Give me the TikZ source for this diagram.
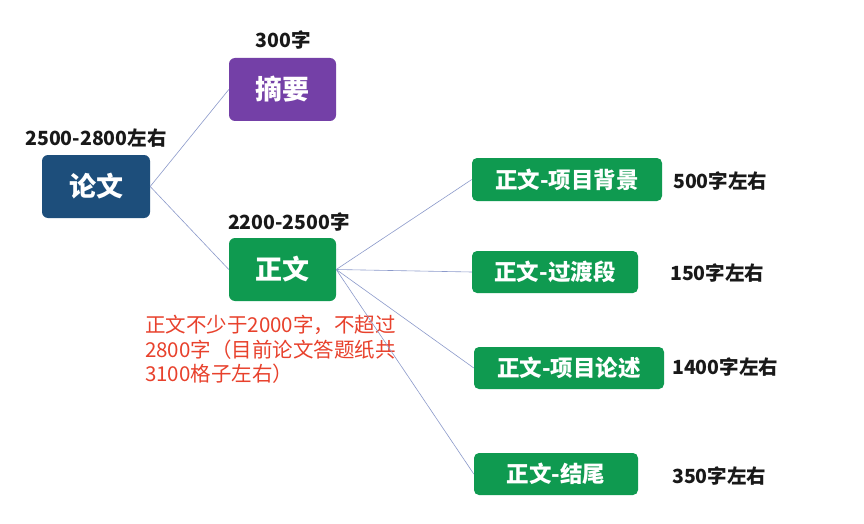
\documentclass[tikz,border=0pt]{standalone}
\usepackage{fontspec}
\setmainfont{Noto Sans CJK SC}
\begin{document}
\begin{tikzpicture}[x=1pt,y=-1pt,
  box/.style={rounded corners=6pt, text=white, font=\bfseries\fontsize{27}{31}\selectfont, inner sep=0pt, anchor=center},
  sub/.style={rounded corners=5pt, fill=ngreen, text=white, font=\bfseries\fontsize{22.5}{26}\selectfont, inner sep=0pt, anchor=center},
  lbl/.style={font=\bfseries\fontsize{19.5}{23}\selectfont, text=black!90, inner sep=0pt},
  conn/.style={draw=lineblue, line width=0.6pt}]
\definecolor{nblue}{HTML}{1D4E7B}
\definecolor{npurple}{HTML}{7440A7}
\definecolor{ngreen}{HTML}{0F9A50}
\definecolor{nred}{HTML}{E8412C}
\definecolor{lineblue}{HTML}{8C9ACB}
\useasboundingbox (0,0) rectangle (864,524);
\fill[white] (0,0) rectangle (864,524);

\node[box, fill=nblue, minimum width=108pt, minimum height=63pt] (lw) at (96,186.5) {论文};
\node[box, fill=npurple, minimum width=107pt, minimum height=63pt] (zy) at (282.5,89.5) {摘要};
\node[box, fill=ngreen, minimum width=107pt, minimum height=63pt] (zw) at (282.5,269.5) {正文};

\node[sub, minimum width=190pt, minimum height=43pt] (c1) at (567,179.5) {正文-项目背景};
\node[sub, minimum width=166pt, minimum height=42pt] (c2) at (555,272) {正文-过渡段};
\node[sub, minimum width=190pt, minimum height=42pt] (c3) at (569,368) {正文-项目论述};
\node[sub, minimum width=164pt, minimum height=42pt] (c4) at (556,474) {正文-结尾};

\node[lbl] (l0) at (96,138) {2500-2800左右};
\node[lbl] (l1) at (283,40) {300字};
\node[lbl] (l2) at (289,222) {2200-2500字};
\node[lbl, anchor=west] (l3) at (673,181) {500字左右};
\node[lbl, anchor=west] (l4) at (670,273) {150字左右};
\node[lbl, anchor=west] (l5) at (672,367) {1400字左右};
\node[lbl, anchor=west] (l6) at (672,476) {350字左右};

\node[anchor=north west, align=left, text=nred, inner sep=0pt,
  font=\fontsize{20.5}{24.5}\selectfont] (note) at (145,315)
  {正文不少于2000字，不超过\\2800字（目前论文答题纸共\\3100格子左右）};

\draw[conn] (lw.east) -- (zy.west);
\draw[conn] (lw.east) -- (zw.west);
\draw[conn] (zw.east) -- (c1.west);
\draw[conn] (zw.east) -- (c2.west);
\draw[conn] (zw.east) -- (c3.west);
\draw[conn] (zw.east) -- (c4.west);
\end{tikzpicture}
\end{document}
